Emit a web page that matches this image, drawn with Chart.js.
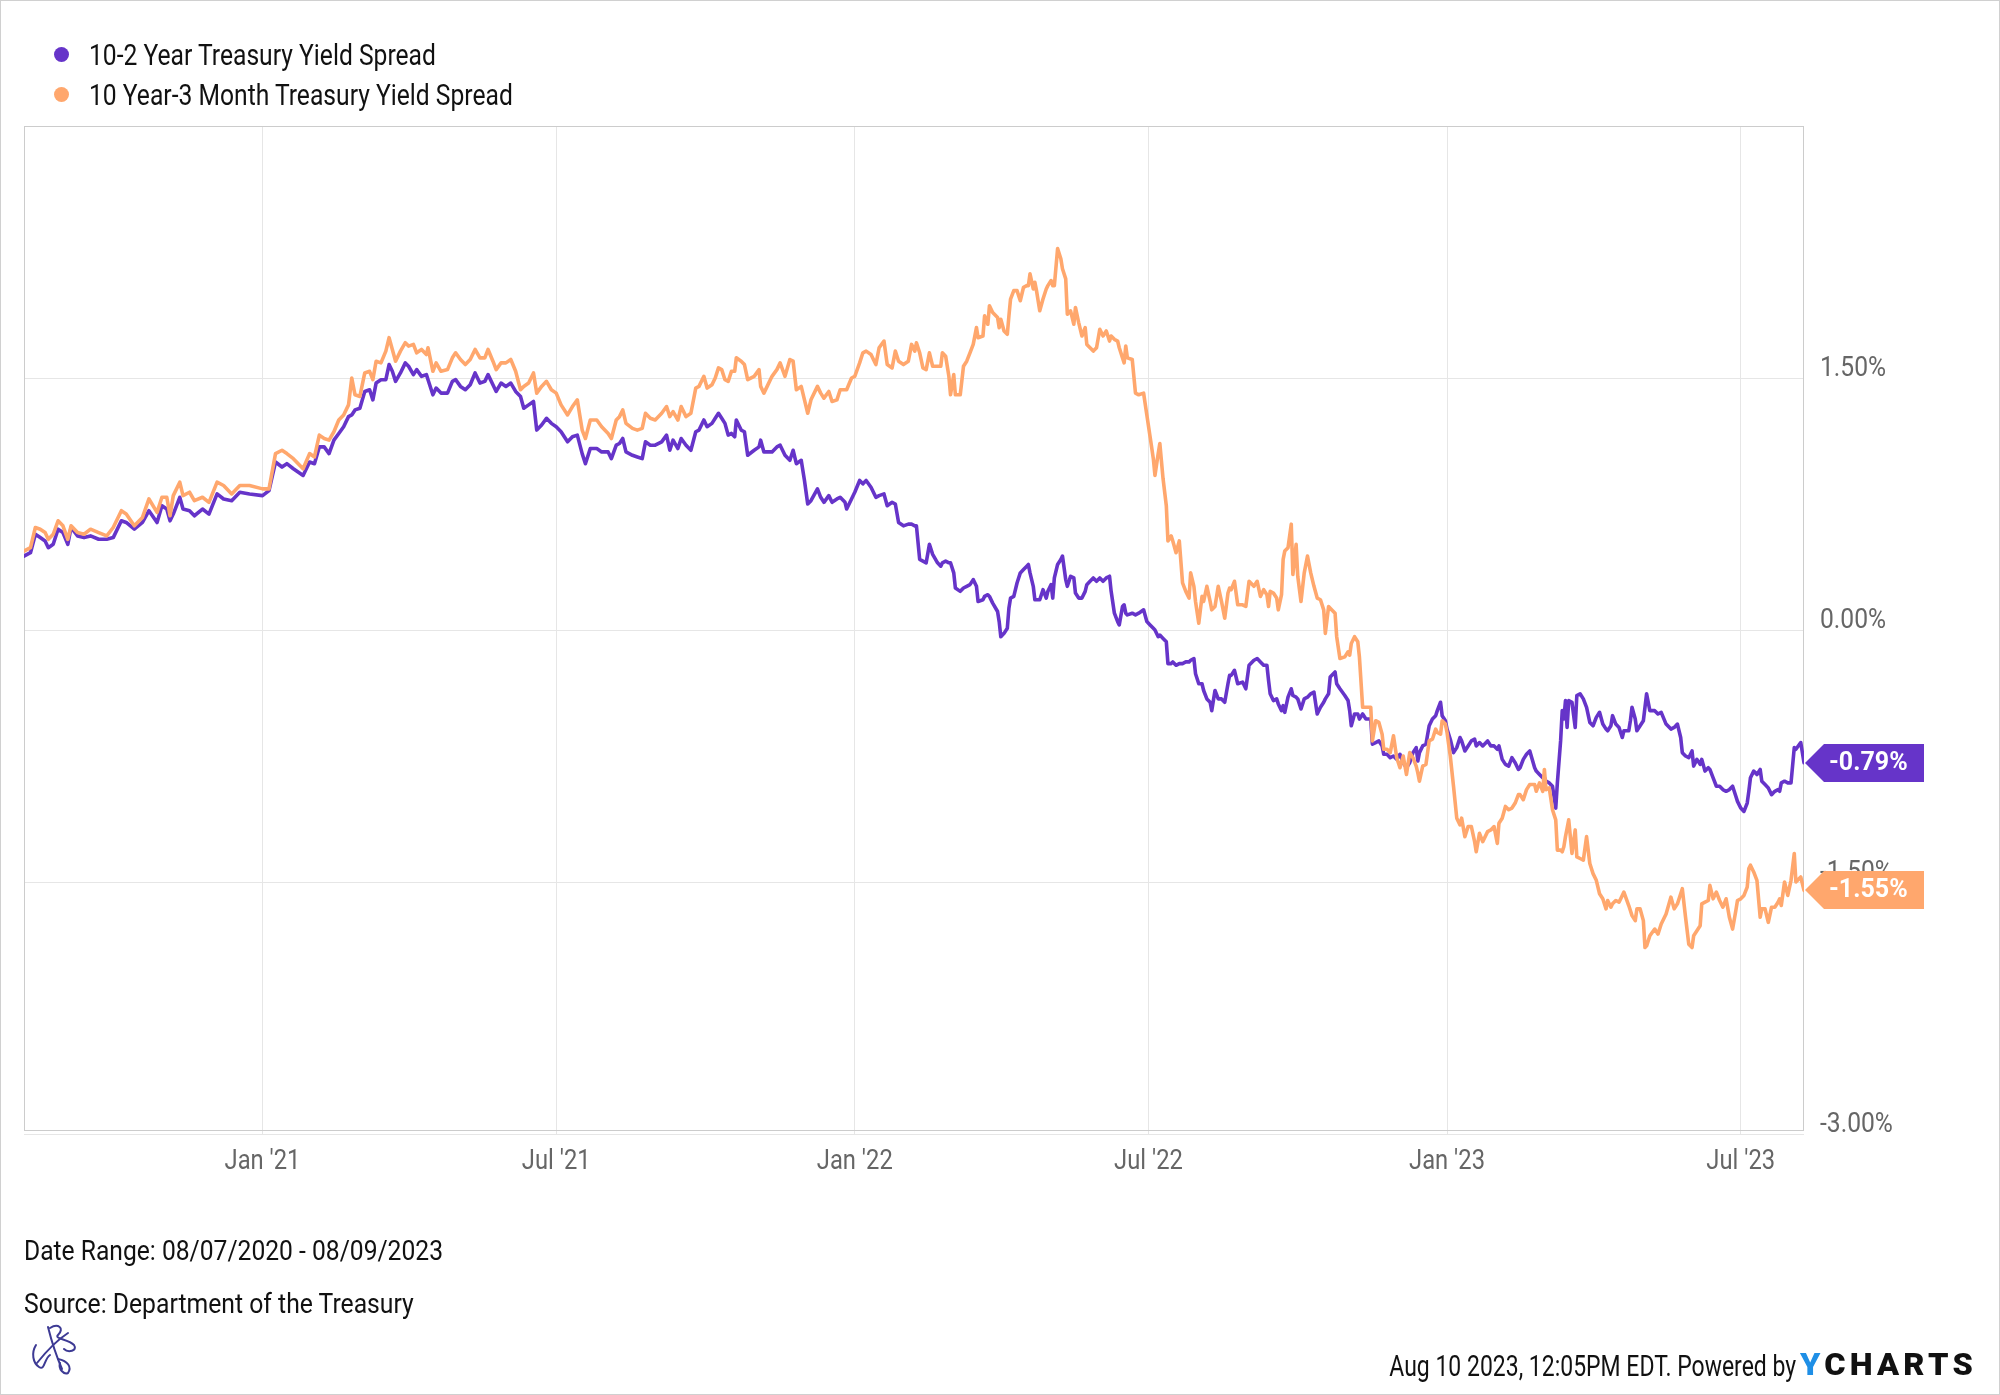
<!DOCTYPE html>
<html>
<head>
<meta charset="utf-8">
<title>Treasury Yield Spreads</title>
<script src="https://cdn.jsdelivr.net/npm/chart.js@4.4.1/dist/chart.umd.min.js"></script>
<style>
  html, body { margin: 0; padding: 0; background: #fff; }
  #page { position: relative; width: 2000px; height: 1395px; overflow: hidden; font-family: Roboto, sans-serif; color: #111; }
  #page .edge { position: absolute; left: 0; top: 0; right: 0; bottom: 0; border: 1px solid #d0d0d0; pointer-events: none; }
  canvas { position: absolute; left: 0; top: 0; }
  .txt { position: absolute; white-space: nowrap; line-height: 1; transform-origin: left center; }
  .txt.right { transform-origin: right center; }
  .dot { position: absolute; width: 15px; height: 15px; border-radius: 50%; }
  .brand { font-weight: 900; letter-spacing: 4px; color: #111; }
  .brand b { color: #1f8fe6; font-weight: 900; }
  .logo { position: absolute; left: 27px; top: 1322px; }
</style>
</head>
<body>
<div id="page">
  <canvas id="spreadChart" width="2000" height="1395"></canvas>

  <span class="dot" style="left:54px; top:47px; background:#6634c9"></span>
  <span class="txt fit" data-w="347" style="left:89px; top:41px; font-size:29px">10-2 Year Treasury Yield Spread</span>
  <span class="dot" style="left:54px; top:87px; background:#ffa76d"></span>
  <span class="txt fit" data-w="424" style="left:89px; top:81px; font-size:29px">10 Year-3 Month Treasury Yield Spread</span>

  <span class="txt fit" data-w="419" style="left:24px; top:1238px; font-size:27px">Date Range: 08/07/2020 - 08/09/2023</span>
  <span class="txt fit" data-w="390" style="left:24px; top:1291px; font-size:27px">Source: Department of the Treasury</span>

  <svg class="logo" width="54" height="54" viewBox="0 0 54 54" fill="none" stroke="#3d3a94" stroke-width="2" stroke-linecap="round">
    <path d="M21 5 C24 17 28 31 35 47"/>
    <path d="M10 41 C18 31 27 20 41 11"/>
    <path d="M23 6 C31 1 38 6 31 13 C27 17 41 17 47 23 C51 29 41 31 37 27"/>
    <path d="M9 23 C4 31 6 41 12 45 C18 49 17 37 23 33"/>
    <path d="M31 37 C41 39 45 45 41 51 C37 53 31 47 33 41"/>
  </svg>

  <span class="txt right fit" data-w="407" style="right:204px; top:1351px; font-size:30px">Aug 10 2023, 12:05PM EDT. Powered by</span>
  <span class="txt brand fit" data-w="177" style="left:1800px; top:1349px; font-size:31px"><b>Y</b>CHARTS</span>

  <div class="edge"></div>
</div>

<script>
// days after 2020-08-07
const dayNumbers = [
  0, 4, 7, 10, 13, 15, 18, 21, 24, 27,
  29, 33, 37, 41, 46, 51, 55, 60, 63, 68,
  73, 77, 82, 85, 88, 90, 92, 96, 98, 102,
  105, 110, 114, 119, 123, 128, 133, 139, 147, 151,
  155, 159, 162, 166, 172, 176, 179, 182,
  185, 188, 191, 194, 197, 200, 202, 204, 207, 210,
  213, 215, 217, 220, 223, 225, 227, 229, 232, 235,
  237, 240, 242, 245, 248, 249, 252, 254, 257, 261,
  264, 266, 269, 272, 275, 278, 281, 284, 286, 289,
  291, 294, 297, 300, 303, 306, 308, 311, 314, 316,
  319, 322, 325, 328, 331, 335, 338, 341, 344, 346,
  349, 353, 356, 360, 362, 365,
  367, 369, 371, 375, 378, 381, 383, 386, 389, 393,
  396, 398, 400, 403, 405, 408, 411, 414, 416, 419,
  421, 424, 426, 428, 430, 432, 434, 436, 438, 439,
  442, 444, 446, 450, 453, 454, 456, 458, 461, 464,
  466, 469, 472, 474, 476, 479, 481, 483, 485, 489,
  491, 493, 496, 498, 501, 503, 506, 507, 510, 512,
  515, 517, 519, 522, 525, 527, 530, 532, 535, 537,
  539, 542, 545, 547, 549,
  550, 552, 554, 556, 558, 560, 563, 565, 566, 568,
  570, 571, 573, 574, 577, 579, 581, 583, 585, 587,
  588, 591, 592, 594, 595, 597, 600, 601, 602, 604,
  606, 607, 608, 610, 612, 614, 616, 618, 619, 620,
  622, 623, 624, 626, 628, 630, 631, 633, 634, 635,
  637, 639, 640, 642, 643, 645, 647, 648, 650, 652,
  654, 655, 657, 659, 661, 663, 665, 667, 669, 670,
  672, 674, 675, 677, 678, 679, 680, 683, 685, 687,
  690, 692, 694, 696, 697, 699, 700, 702, 704, 705,
  707, 708, 710, 712, 714, 716, 718, 719, 721, 722,
  724, 726, 727, 729, 731, 732, 734, 736, 738, 740,
  742, 743,
  744, 746, 748, 751, 753, 755, 758, 760, 762, 764,
  766, 767, 768, 770, 772, 773, 775, 776, 777, 779,
  781, 782, 784, 785, 787, 789, 791, 793, 795, 797,
  799, 801, 802, 804, 805, 808, 809, 811, 814, 816,
  817, 818, 820, 822, 823, 825, 827, 830, 831, 833,
  835, 837, 838, 840, 842, 844, 846, 848, 850, 852,
  854, 856, 858, 859, 860, 862, 864, 866, 868, 870,
  871, 873, 874, 876, 877, 879, 881, 883, 885, 886,
  888, 890, 892, 894, 895, 897, 899, 902, 904, 906,
  908, 909, 911, 913, 915, 917, 919, 921,
  922, 924, 926, 928, 931, 932, 934, 936, 937, 938,
  940, 942, 944, 945, 947, 948, 949, 950, 951, 952,
  954, 956, 957, 959, 961, 963, 965, 967, 969, 971,
  973, 975, 976, 978, 979, 981, 983, 985, 986, 989,
  990, 991, 993, 994, 996, 998, 999, 1000, 1002, 1005,
  1007, 1009, 1012, 1015, 1017, 1019, 1021, 1022, 1024, 1026,
  1028, 1029, 1031, 1033, 1034, 1036, 1038, 1039, 1041, 1043,
  1045, 1047, 1049, 1051, 1053, 1055, 1056, 1058, 1060, 1062,
  1063, 1064, 1066, 1068, 1070, 1071, 1073, 1075, 1077, 1079,
  1081, 1082, 1083, 1085, 1087, 1089, 1091, 1092, 1095, 1097
];

const spread10y2y = [
  0.44, 0.46, 0.57, 0.55, 0.53, 0.49, 0.51, 0.60, 0.58, 0.51,
  0.61, 0.56, 0.55, 0.56, 0.54, 0.54, 0.55, 0.65, 0.64, 0.60,
  0.64, 0.71, 0.64, 0.74, 0.72, 0.65, 0.69, 0.79, 0.72, 0.71,
  0.68, 0.72, 0.69, 0.81, 0.78, 0.77, 0.82, 0.81, 0.80, 0.83,
  1.00, 0.97, 0.99, 0.96, 0.92, 1.00, 0.99, 1.09,
  1.09, 1.05, 1.13, 1.17, 1.21, 1.27, 1.28, 1.31, 1.32, 1.42,
  1.43, 1.37, 1.47, 1.49, 1.49, 1.58, 1.54, 1.48, 1.53, 1.59,
  1.57, 1.52, 1.55, 1.51, 1.52, 1.49, 1.40, 1.44, 1.41, 1.41,
  1.48, 1.49, 1.45, 1.43, 1.46, 1.53, 1.47, 1.48, 1.52, 1.46,
  1.42, 1.47, 1.45, 1.47, 1.42, 1.39, 1.32, 1.34, 1.36, 1.19,
  1.22, 1.26, 1.23, 1.21, 1.18, 1.12, 1.15, 1.16, 1.05, 0.99,
  1.08, 1.08, 1.06, 1.06, 1.02, 1.10,
  1.11, 1.14, 1.06, 1.04, 1.03, 1.02, 1.12, 1.10, 1.10, 1.12,
  1.16, 1.07, 1.13, 1.08, 1.14, 1.10, 1.07, 1.18, 1.19, 1.25,
  1.21, 1.23, 1.26, 1.29, 1.26, 1.23, 1.16, 1.17, 1.15, 1.25,
  1.19, 1.18, 1.04, 1.07, 1.09, 1.13, 1.06, 1.06, 1.06, 1.09,
  1.10, 1.04, 1.01, 1.07, 0.99, 1.01, 0.89, 0.75, 0.77, 0.84,
  0.79, 0.76, 0.80, 0.76, 0.78, 0.79, 0.76, 0.72, 0.78, 0.82,
  0.89, 0.87, 0.89, 0.85, 0.79, 0.80, 0.81, 0.74, 0.76, 0.75,
  0.64, 0.62, 0.63, 0.63, 0.62,
  0.62, 0.42, 0.41, 0.40, 0.51, 0.45, 0.40, 0.38, 0.40, 0.41,
  0.40, 0.40, 0.34, 0.25, 0.23, 0.25, 0.26, 0.27, 0.30, 0.26,
  0.17, 0.18, 0.20, 0.21, 0.20, 0.16, 0.11, 0.05, -0.04, -0.02,
  0.01, 0.13, 0.19, 0.20, 0.28, 0.34, 0.36, 0.38, 0.39, 0.34,
  0.26, 0.18, 0.18, 0.18, 0.24, 0.19, 0.23, 0.27, 0.19, 0.31,
  0.39, 0.42, 0.44, 0.30, 0.26, 0.32, 0.31, 0.22, 0.19, 0.19,
  0.23, 0.27, 0.29, 0.31, 0.29, 0.31, 0.29, 0.31, 0.32, 0.23,
  0.10, 0.05, 0.03, 0.14, 0.15, 0.10, 0.09, 0.10, 0.09, 0.10,
  0.12, 0.05, 0.03, 0.01, 0.00, -0.04, -0.03, -0.05, -0.07, -0.20,
  -0.20, -0.19, -0.21, -0.20, -0.20, -0.19, -0.19, -0.18, -0.17, -0.26,
  -0.32, -0.32, -0.36, -0.41, -0.43, -0.48, -0.36, -0.41, -0.41, -0.43,
  -0.32, -0.27,
  -0.27, -0.24, -0.32, -0.31, -0.35, -0.21, -0.18, -0.17, -0.19, -0.21,
  -0.21, -0.30, -0.38, -0.42, -0.41, -0.44, -0.48, -0.45, -0.49, -0.40,
  -0.35, -0.39, -0.40, -0.41, -0.47, -0.41, -0.40, -0.38, -0.37, -0.50,
  -0.46, -0.43, -0.41, -0.38, -0.28, -0.25, -0.32, -0.35, -0.39, -0.42,
  -0.48, -0.57, -0.50, -0.50, -0.53, -0.50, -0.53, -0.53, -0.68, -0.67,
  -0.66, -0.69, -0.74, -0.74, -0.76, -0.75, -0.77, -0.74, -0.79, -0.82,
  -0.79, -0.73, -0.70, -0.78, -0.73, -0.69, -0.68, -0.57, -0.53, -0.51,
  -0.48, -0.43, -0.51, -0.54, -0.59, -0.65, -0.73, -0.70, -0.64, -0.66,
  -0.72, -0.69, -0.66, -0.65, -0.69, -0.67, -0.69, -0.66, -0.69, -0.69,
  -0.71, -0.69, -0.77, -0.80, -0.81, -0.76, -0.79, -0.83,
  -0.82, -0.77, -0.74, -0.72, -0.82, -0.84, -0.86, -0.88, -0.88, -0.90,
  -0.91, -0.93, -1.06, -0.91, -0.66, -0.48, -0.53, -0.42, -0.58, -0.42,
  -0.43, -0.58, -0.39, -0.38, -0.41, -0.46, -0.55, -0.57, -0.52, -0.49,
  -0.56, -0.59, -0.60, -0.57, -0.51, -0.56, -0.58, -0.64, -0.60, -0.60,
  -0.54, -0.46, -0.53, -0.60, -0.57, -0.54, -0.46, -0.38, -0.48, -0.48,
  -0.50, -0.49, -0.56, -0.59, -0.58, -0.56, -0.64, -0.73, -0.75, -0.76,
  -0.72, -0.81, -0.77, -0.80, -0.77, -0.84, -0.82, -0.83, -0.88, -0.93,
  -0.93, -0.95, -0.96, -0.95, -0.93, -0.99, -1.02, -1.06, -1.08, -1.03,
  -0.96, -0.88, -0.84, -0.86, -0.83, -0.90, -0.92, -0.94, -0.98, -0.96,
  -0.95, -0.96, -0.91, -0.90, -0.91, -0.91, -0.70, -0.71, -0.67, -0.79
];

const spread10y3m = [
  0.47, 0.49, 0.61, 0.60, 0.58, 0.54, 0.57, 0.65, 0.62, 0.54,
  0.62, 0.58, 0.57, 0.60, 0.58, 0.56, 0.61, 0.71, 0.69, 0.62,
  0.67, 0.78, 0.70, 0.79, 0.79, 0.68, 0.80, 0.88, 0.80, 0.82,
  0.77, 0.79, 0.76, 0.88, 0.86, 0.81, 0.86, 0.86, 0.84, 0.84,
  1.05, 1.07, 1.05, 1.02, 0.96, 1.05, 1.03, 1.16,
  1.14, 1.13, 1.18, 1.25, 1.28, 1.34, 1.50, 1.40, 1.39, 1.53,
  1.54, 1.49, 1.60, 1.59, 1.66, 1.74, 1.67, 1.60, 1.66, 1.71,
  1.69, 1.70, 1.65, 1.67, 1.64, 1.68, 1.54, 1.59, 1.54, 1.55,
  1.62, 1.65, 1.61, 1.58, 1.61, 1.67, 1.62, 1.62, 1.67, 1.60,
  1.55, 1.59, 1.59, 1.61, 1.54, 1.43, 1.45, 1.47, 1.53, 1.41,
  1.45, 1.48, 1.43, 1.41, 1.34, 1.28, 1.33, 1.37, 1.19, 1.14,
  1.25, 1.25, 1.21, 1.17, 1.14, 1.25,
  1.27, 1.31, 1.23, 1.20, 1.19, 1.20, 1.29, 1.26, 1.25, 1.29,
  1.33, 1.27, 1.30, 1.25, 1.33, 1.27, 1.29, 1.44, 1.45, 1.51,
  1.44, 1.46, 1.50, 1.56, 1.55, 1.49, 1.48, 1.54, 1.54, 1.62,
  1.60, 1.58, 1.49, 1.51, 1.55, 1.45, 1.41, 1.45, 1.51, 1.55,
  1.59, 1.51, 1.61, 1.60, 1.43, 1.45, 1.37, 1.29, 1.37, 1.45,
  1.41, 1.38, 1.42, 1.36, 1.37, 1.43, 1.43, 1.43, 1.50, 1.51,
  1.59, 1.65, 1.66, 1.64, 1.58, 1.68, 1.72, 1.58, 1.56, 1.66,
  1.60, 1.58, 1.60, 1.70, 1.66,
  1.71, 1.65, 1.56, 1.55, 1.65, 1.57, 1.57, 1.57, 1.65, 1.63,
  1.51, 1.40, 1.52, 1.40, 1.40, 1.57, 1.60, 1.65, 1.70, 1.80,
  1.74, 1.75, 1.87, 1.82, 1.93, 1.89, 1.86, 1.80, 1.85, 1.78,
  1.76, 1.87, 1.97, 2.02, 2.02, 1.96, 2.04, 2.05, 2.05, 2.12,
  2.03, 2.07, 2.02, 1.90, 1.97, 2.03, 2.05, 2.08, 2.05, 2.05,
  2.27, 2.21, 2.15, 2.09, 1.88, 1.90, 1.82, 1.92, 1.83, 1.75,
  1.80, 1.70, 1.68, 1.66, 1.68, 1.79, 1.75, 1.78, 1.72, 1.75,
  1.73, 1.72, 1.68, 1.62, 1.59, 1.69, 1.62, 1.61, 1.41, 1.40,
  1.41, 1.28, 1.15, 1.02, 0.92, 1.05, 1.11, 0.90, 0.74, 0.53,
  0.56, 0.53, 0.46, 0.53, 0.28, 0.23, 0.19, 0.34, 0.26, 0.17,
  0.04, 0.20, 0.17, 0.26, 0.17, 0.12, 0.14, 0.26, 0.17, 0.07,
  0.22, 0.25,
  0.24, 0.29, 0.15, 0.15, 0.14, 0.29, 0.26, 0.29, 0.20, 0.24,
  0.21, 0.14, 0.23, 0.22, 0.19, 0.12, 0.21, 0.42, 0.47, 0.49,
  0.63, 0.33, 0.51, 0.32, 0.17, 0.34, 0.44, 0.34, 0.26, 0.19,
  0.18, 0.12, -0.02, 0.14, 0.13, 0.10, -0.04, -0.17, -0.16, -0.13,
  -0.15, -0.08, -0.04, -0.07, -0.16, -0.46, -0.46, -0.46, -0.66, -0.54,
  -0.55, -0.62, -0.71, -0.71, -0.73, -0.63, -0.76, -0.82, -0.75, -0.86,
  -0.73, -0.76, -0.81, -0.85, -0.90, -0.81, -0.80, -0.66, -0.65, -0.59,
  -0.61, -0.62, -0.54, -0.56, -0.61, -0.75, -0.93, -1.12, -1.16, -1.12,
  -1.23, -1.17, -1.17, -1.26, -1.32, -1.21, -1.26, -1.20, -1.19, -1.17,
  -1.27, -1.15, -1.12, -1.05, -1.07, -1.06, -1.03, -0.98,
  -0.98, -1.01, -0.95, -0.92, -0.92, -0.96, -0.91, -0.96, -0.83, -0.95,
  -0.94, -1.07, -1.13, -1.31, -1.31, -1.32, -1.29, -1.23, -1.18, -1.13,
  -1.33, -1.19, -1.35, -1.36, -1.37, -1.23, -1.39, -1.45, -1.49, -1.57,
  -1.60, -1.66, -1.61, -1.65, -1.63, -1.61, -1.62, -1.58, -1.56, -1.64,
  -1.67, -1.70, -1.73, -1.66, -1.66, -1.73, -1.89, -1.88, -1.82, -1.78,
  -1.81, -1.75, -1.69, -1.59, -1.66, -1.63, -1.57, -1.54, -1.71, -1.87,
  -1.89, -1.82, -1.79, -1.76, -1.63, -1.62, -1.61, -1.52, -1.60, -1.56,
  -1.61, -1.65, -1.60, -1.71, -1.78, -1.67, -1.61, -1.60, -1.58, -1.53,
  -1.42, -1.40, -1.44, -1.49, -1.71, -1.66, -1.66, -1.74, -1.65, -1.65,
  -1.62, -1.60, -1.64, -1.50, -1.58, -1.49, -1.33, -1.50, -1.47, -1.55
];

// Jan / Jul gridlines, as days after 2020-08-07
const tickDays = [147, 328, 512, 693, 877, 1058];
const tickLabels = ["Jan '21", "Jul '21", "Jan '22", "Jul '22", "Jan '23", "Jul '23"];
const lastDay = 1097;

const purple = '#6634c9';
const orange = '#ffa76d';

if (spread10y2y.length !== dayNumbers.length || spread10y3m.length !== dayNumbers.length) {
  throw new Error('length mismatch ' + dayNumbers.length + ' ' + spread10y2y.length + ' ' + spread10y3m.length);
}

function toPoints(values) {
  return dayNumbers.map((d, i) => ({ x: d, y: values[i] }));
}

// squeeze axis text horizontally, the way the condensed face looks
const narrowText = {
  id: 'narrowText',
  beforeDraw(chart) {
    const fill = CanvasRenderingContext2D.prototype.fillText;
    chart.ctx.fillText = function (text, x, y) {
      this.save();
      this.translate(x, y);
      this.scale(0.88, 1);
      fill.call(this, text, 0, 0);
      this.restore();
    };
  },
  beforeDatasetsDraw(chart) {
    delete chart.ctx.fillText;
    const { ctx, chartArea: a } = chart;
    ctx.save();
    ctx.strokeStyle = '#cccccc';
    ctx.lineWidth = 1;
    ctx.strokeRect(a.left + 0.5, a.top + 0.5, a.right - a.left - 1, a.bottom - a.top - 4);
    ctx.restore();
  }
};

const endLabels = {
  id: 'endLabels',
  afterDraw(chart) {
    const { ctx, chartArea, scales } = chart;
    chart.data.datasets.forEach(ds => {
      const last = ds.data[ds.data.length - 1];
      const y = Math.round(scales.y.getPixelForValue(last.y));
      const x0 = chartArea.right + 1;
      const h = 38, tip = 19, x1 = x0 + 119;
      ctx.save();
      ctx.fillStyle = ds.borderColor;
      ctx.beginPath();
      ctx.moveTo(x0, y);
      ctx.lineTo(x0 + tip, y - h / 2);
      ctx.lineTo(x1, y - h / 2);
      ctx.lineTo(x1, y + h / 2);
      ctx.lineTo(x0 + tip, y + h / 2);
      ctx.closePath();
      ctx.fill();
      ctx.fillStyle = '#ffffff';
      ctx.font = 'bold 25px Roboto';
      ctx.textAlign = 'left';
      ctx.textBaseline = 'middle';
      ctx.fillText(last.y.toFixed(2) + '%', x0 + 24, y + 1);
      ctx.restore();
    });
  }
};

new Chart(document.getElementById('spreadChart'), {
  type: 'line',
  data: {
    datasets: [
      { label: '10-2 Year Treasury Yield Spread', data: toPoints(spread10y2y), borderColor: purple, order: 1 },
      { label: '10 Year-3 Month Treasury Yield Spread', data: toPoints(spread10y3m), borderColor: orange, order: 0 }
    ]
  },
  options: {
    responsive: false,
    animation: false,
    events: [],
    layout: { padding: { left: 24, top: 126, right: 0, bottom: 201 } },
    elements: {
      line: { borderWidth: 3.6, tension: 0, borderJoinStyle: 'round', borderCapStyle: 'round' },
      point: { radius: 0 }
    },
    plugins: { legend: { display: false }, tooltip: { enabled: false } },
    scales: {
      x: {
        type: 'linear',
        min: 0,
        max: lastDay,
        afterBuildTicks: s => { s.ticks = tickDays.map(v => ({ value: v })); },
        afterFit: s => { s.height = 60; },
        grid: { color: '#e6e6e6', drawTicks: false },
        border: { display: false },
        ticks: {
          callback: (v, i) => tickLabels[i],
          color: '#666666',
          font: { family: 'Roboto', size: 27 },
          padding: 12,
          maxRotation: 0,
          autoSkip: false
        }
      },
      y: {
        position: 'right',
        min: -3,
        max: 3,
        afterFit: s => { s.width = 196; },
        grid: { color: c => (c.tick.value === 3 ? 'rgba(0,0,0,0)' : '#e6e6e6'), drawTicks: false },
        border: { display: false },
        ticks: {
          stepSize: 1.5,
          padding: 16,
          labelOffset: -9,
          color: '#666666',
          font: { family: 'Roboto', size: 28 },
          callback: v => (v === 3 ? '' : v.toFixed(2) + '%')
        }
      }
    }
  },
  plugins: [narrowText, endLabels]
});

// fit the page texts to their measured widths
document.querySelectorAll('.fit').forEach(el => {
  const w = el.getBoundingClientRect().width;
  el.style.transform = 'scaleX(' + (el.dataset.w / w).toFixed(3) + ')';
});
</script>
</body>
</html>
